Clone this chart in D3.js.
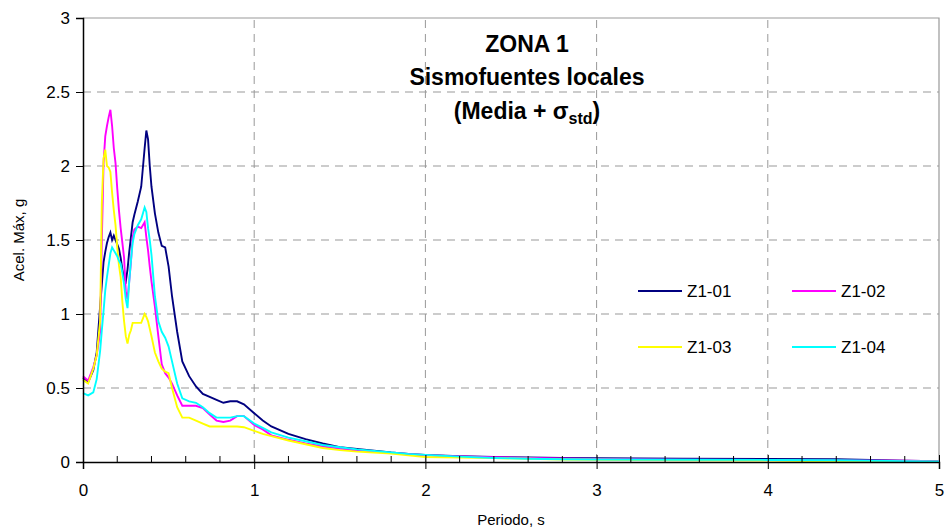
<!DOCTYPE html>
<html lang="es">
<head>
  <meta charset="utf-8">
  <title>Zona 1 - Sismofuentes locales</title>
  <script src="https://d3js.org/d3.v7.min.js"></script>
  <style>
    body { margin: 0; background: #fff; }
    text { font-family: "Liberation Sans", Arial, sans-serif; }
    .grid line { stroke: #999; stroke-dasharray: 8,6; stroke-width: 1; }
    .series { fill: none; stroke-width: 1.9; }
  </style>
</head>
<body>
<script>
  // periodos (s) comunes a las cuatro series
  const periods = [0, 0.03, 0.06, 0.08, 0.1, 0.11, 0.12, 0.13, 0.14, 0.15, 0.16, 0.17, 0.18, 0.19,
    0.2, 0.21, 0.22, 0.23, 0.24, 0.25, 0.26, 0.27, 0.28, 0.29, 0.3, 0.32, 0.34, 0.36, 0.37, 0.38,
    0.39, 0.4, 0.42, 0.44, 0.46, 0.48, 0.5, 0.52, 0.55, 0.58, 0.62, 0.66, 0.7, 0.74, 0.78, 0.82,
    0.86, 0.9, 0.94, 1.0, 1.05, 1.1, 1.2, 1.3, 1.4, 1.5, 1.6, 1.7, 1.8, 1.9, 2.0, 2.2, 2.4, 2.6,
    2.8, 3.0, 3.5, 4.0, 4.4, 4.8, 5.0];

  const z101 = [0.57, 0.54, 0.62, 0.74, 1.05, 1.2, 1.35, 1.42, 1.48, 1.52, 1.55, 1.50, 1.53, 1.50,
    1.47, 1.44, 1.38, 1.30, 1.24, 1.22, 1.30, 1.42, 1.52, 1.62, 1.67, 1.76, 1.86, 2.12, 2.24, 2.18,
    2.0, 1.86, 1.68, 1.55, 1.46, 1.45, 1.32, 1.12, 0.88, 0.68, 0.58, 0.51, 0.46, 0.44, 0.42, 0.40,
    0.41, 0.41, 0.39, 0.33, 0.28, 0.24, 0.19, 0.155, 0.125, 0.10, 0.088, 0.076, 0.064, 0.055, 0.048,
    0.04, 0.034, 0.03, 0.028, 0.026, 0.022, 0.02, 0.019, 0.008, 0.005];

  const z102 = [0.58, 0.55, 0.64, 0.72, 0.88, 1.5, 2.02, 2.2, 2.27, 2.33, 2.38, 2.27, 2.12, 2.02,
    1.85, 1.70, 1.58, 1.48, 1.38, 1.15, 1.10, 1.22, 1.35, 1.52, 1.57, 1.59, 1.58, 1.62, 1.52, 1.43,
    1.32, 1.22, 1.05, 0.85, 0.66, 0.60, 0.57, 0.53, 0.45, 0.38, 0.38, 0.38, 0.365, 0.32, 0.28, 0.27,
    0.28, 0.31, 0.31, 0.25, 0.22, 0.18, 0.15, 0.125, 0.105, 0.09, 0.078, 0.07, 0.062, 0.055, 0.046,
    0.038, 0.032, 0.028, 0.024, 0.02, 0.016, 0.013, 0.011, 0.008, 0.006];

  const z103 = [0.555, 0.53, 0.63, 0.72, 0.95, 1.75, 2.05, 2.11, 2.0, 1.99, 1.96, 1.82, 1.70, 1.60,
    1.45, 1.33, 1.25, 1.08, 0.95, 0.85, 0.80, 0.86, 0.89, 0.94, 0.94, 0.94, 0.94, 1.0, 0.98, 0.95,
    0.90, 0.85, 0.74, 0.68, 0.63, 0.61, 0.60, 0.50, 0.37, 0.30, 0.30, 0.28, 0.26, 0.24, 0.24, 0.24,
    0.24, 0.24, 0.235, 0.21, 0.19, 0.175, 0.145, 0.12, 0.095, 0.08, 0.07, 0.064, 0.057, 0.045, 0.034,
    0.03, 0.026, 0.022, 0.017, 0.015, 0.012, 0.01, 0.003, 0.002, 0.002];

  const z104 = [0.465, 0.45, 0.47, 0.56, 0.75, 0.89, 1.02, 1.16, 1.25, 1.33, 1.41, 1.45, 1.43, 1.41,
    1.39, 1.36, 1.34, 1.28, 1.20, 1.10, 1.04, 1.22, 1.36, 1.48, 1.54, 1.60, 1.64, 1.72, 1.69, 1.58,
    1.50, 1.40, 1.12, 0.95, 0.88, 0.84, 0.78, 0.68, 0.53, 0.43, 0.41, 0.40, 0.37, 0.33, 0.30, 0.30,
    0.30, 0.31, 0.31, 0.26, 0.23, 0.20, 0.165, 0.14, 0.115, 0.10, 0.085, 0.075, 0.065, 0.055, 0.048,
    0.036, 0.027, 0.022, 0.019, 0.017, 0.015, 0.014, 0.012, 0.006, 0.004];

  const seriesNames = ["Z1-01", "Z1-02", "Z1-03", "Z1-04"];
  const seriesColors = ["#000080", "#ff00ff", "#ffff00", "#00ffff"];
  const seriesValues = [z101, z102, z103, z104];

  const xTicks = [0, 1, 2, 3, 4, 5];
  const yTicks = [0, 0.5, 1, 1.5, 2, 2.5, 3];

  const width = 948, height = 531;
  const margin = { left: 83, right: 9, top: 18, bottom: 69 };

  const svg = d3.select("body").append("svg")
    .attr("width", width)
    .attr("height", height);

  const x = d3.scaleLinear().domain([0, 5]).range([margin.left, width - margin.right]);
  const y = d3.scaleLinear().domain([0, 3]).range([height - margin.bottom, margin.top]);

  // grid
  const grid = svg.append("g").attr("class", "grid");
  grid.selectAll(".gy")
    .data(yTicks.filter(d => d > 0 && d < 3))
    .enter().append("line")
    .attr("x1", x(0)).attr("x2", x(5))
    .attr("y1", d => y(d)).attr("y2", d => y(d));
  grid.selectAll(".gx")
    .data(xTicks.filter(d => d > 0 && d < 5))
    .enter().append("line")
    .attr("x1", d => x(d)).attr("x2", d => x(d))
    .attr("y1", y(0)).attr("y2", y(3));

  // plot border top / right
  svg.append("path")
    .attr("d", `M${x(0)},${y(3)}H${x(5)}V${y(0)}`)
    .attr("fill", "none")
    .attr("stroke", "#999")
    .attr("stroke-width", 1.2);

  // series
  seriesValues.forEach((vals, i) => {
    const line = d3.line()
      .x((d, j) => x(periods[j]))
      .y(d => y(d));
    svg.append("path")
      .datum(vals)
      .attr("class", "series")
      .attr("stroke", seriesColors[i])
      .attr("d", line);
  });

  // axes
  const yAxis = svg.append("g")
    .attr("transform", `translate(${x(0)},0)`)
    .call(d3.axisLeft(y).tickValues(yTicks).tickSize(7).tickPadding(6)
      .tickFormat(d => String(d)));
  yAxis.select(".domain").attr("stroke", "#000").attr("stroke-width", 1.5);
  yAxis.selectAll("text").style("font-size", "17px").attr("fill", "#000");

  const xAxis = svg.append("g")
    .attr("transform", `translate(0,${y(0)})`)
    .call(d3.axisBottom(x).tickValues(xTicks).tickSize(7).tickPadding(15)
      .tickFormat(d3.format("d")));
  xAxis.select(".domain").attr("stroke", "#000").attr("stroke-width", 1.5);
  xAxis.selectAll(".tick line").attr("y1", -7);
  xAxis.selectAll("text").style("font-size", "17px").attr("fill", "#000");

  // minor x ticks
  const minor = d3.range(0, 5.001, 0.2).filter(d => Math.abs(d - Math.round(d)) > 0.01);
  svg.append("g").selectAll("line")
    .data(minor)
    .enter().append("line")
    .attr("x1", d => x(d)).attr("x2", d => x(d))
    .attr("y1", y(0) - 6).attr("y2", y(0))
    .attr("stroke", "#000");

  // axis titles
  svg.append("text")
    .attr("x", (x(0) + x(5)) / 2)
    .attr("y", 525)
    .attr("text-anchor", "middle")
    .style("font-size", "15px")
    .text("Periodo, s");

  svg.append("text")
    .attr("transform", `translate(24,${y(1.5)}) rotate(-90)`)
    .attr("text-anchor", "middle")
    .style("font-size", "15px")
    .text("Acel. Máx, g");

  // title
  const title = svg.append("text")
    .attr("text-anchor", "middle")
    .style("font-size", "23px")
    .style("font-weight", "bold");
  title.append("tspan").attr("x", 527).attr("y", 52).text("ZONA 1");
  title.append("tspan").attr("x", 527).attr("y", 85).text("Sismofuentes locales");
  const t3 = title.append("tspan").attr("x", 527).attr("y", 119);
  t3.append("tspan").text("(Media + σ");
  t3.append("tspan").attr("dy", 5).style("font-size", "16px").text("std");
  t3.append("tspan").attr("dy", -5).text(")");

  // legend
  const legendPos = [[638, 291], [792, 291], [638, 347], [792, 347]];
  seriesNames.forEach((name, i) => {
    const [lx, ly] = legendPos[i];
    svg.append("line")
      .attr("x1", lx).attr("x2", lx + 44)
      .attr("y1", ly).attr("y2", ly)
      .attr("stroke", seriesColors[i])
      .attr("stroke-width", 2);
    svg.append("text")
      .attr("x", lx + 49)
      .attr("y", ly + 6)
      .style("font-size", "17px")
      .text(name);
  });
</script>
</body>
</html>
